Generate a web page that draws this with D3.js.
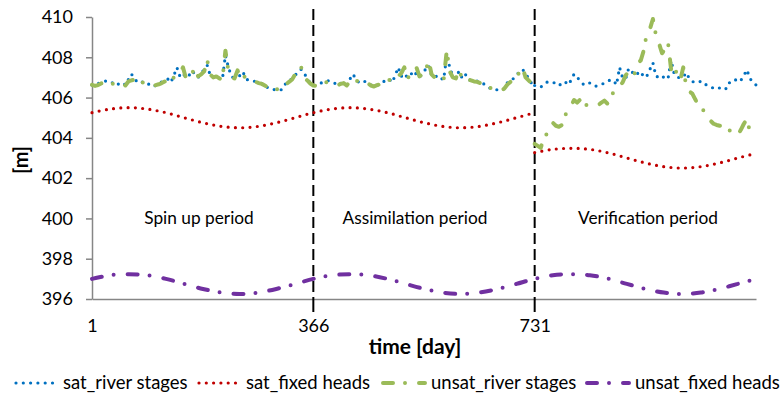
<!DOCTYPE html>
<html><head><meta charset="utf-8">
<script src="https://cdn.jsdelivr.net/npm/d3@7"></script>
<style>
body{margin:0;background:#fff}
svg{display:block}
text{font-family:Lato,"Open Sans",sans-serif;fill:#000}
</style>
</head><body>
<svg id="c" width="783" height="397"></svg>
<script>
// ---- data ----
const sampleStep = 5; // days between river-stage samples
const periodStarts = [1, 366, 731];
const periodEnd = 1096;
// river stages, one year (repeated for spin-up and assimilation periods), every 5 days
const satRiverYear = [406.63,406.6,406.7,406.74,406.8,406.84,406.76,406.72,406.6,406.7,406.75,406.62,406.9,407.17,406.95,406.75,406.72,406.8,406.74,406.63,406.54,406.6,406.7,406.78,406.85,406.92,406.75,407.1,407.5,407.05,407.2,407.0,407.1,407.33,407.15,407.0,407.2,407.4,407.6,407.1,407.0,407.1,406.95,406.9,408.1,407.5,407.05,406.95,407.3,407.0,407.2,406.9,406.85,406.8,406.82,406.75,406.7,406.6,406.49,406.42,406.4,406.38,406.35,406.45,406.74,406.8,406.95,407.1,407.3,407.4,407.2,406.95,406.7,406.6];
const unsatRiverYear = [406.63,406.58,406.62,406.7,406.75,406.78,406.72,406.68,406.6,406.68,406.72,406.6,406.8,406.85,406.9,406.72,406.7,406.76,406.7,406.6,406.55,406.62,406.66,406.72,406.8,406.88,406.78,407.0,407.05,407.2,407.5,406.95,407.1,407.2,407.5,407.05,407.15,407.3,407.85,407.15,407.0,407.05,406.95,406.9,408.33,407.3,407.0,406.95,407.35,407.0,407.1,406.9,406.85,406.8,406.78,406.72,406.68,406.6,406.5,406.45,406.4,406.42,406.35,406.45,406.65,406.78,406.9,407.15,407.2,407.5,407.0,406.85,406.7,406.6];
// verification period, every 5 days from day 731
const satRiverVerif = [406.6,406.55,406.51,406.68,406.76,406.8,406.76,406.7,406.59,406.72,406.8,406.63,406.85,407.17,407.0,406.85,406.67,406.77,406.74,406.63,406.56,406.6,406.67,406.7,406.8,406.88,406.85,406.63,407.5,406.98,406.92,407.45,407.3,407.1,407.2,407.3,407.0,407.07,407.4,407.73,407.05,407.02,407.1,406.92,406.95,407.85,407.2,407.02,406.97,407.02,407.24,406.95,406.8,406.74,406.76,406.82,406.7,406.58,406.52,406.47,406.42,406.48,406.5,406.42,406.74,406.72,406.85,406.95,406.85,407.1,407.38,406.95,406.75,406.63];
const unsatRiverVerif = [403.7,403.6,403.5,403.98,404.2,404.4,404.75,404.6,404.55,404.64,405.1,405.4,405.6,405.88,405.75,405.9,405.55,405.62,405.7,405.68,405.65,405.63,405.75,405.85,405.7,405.88,406.3,406.4,406.6,406.75,407.1,407.29,407.4,407.2,407.7,407.85,408.35,409.2,409.4,409.9,409.1,408.7,408.2,408.4,408.7,407.4,407.6,407.1,406.85,407.5,406.55,406.3,406.2,405.9,405.65,405.5,405.3,405.0,404.85,404.7,404.64,404.6,404.62,404.6,404.4,404.3,404.3,404.15,404.4,404.7,404.92,404.3,404.15,404.06];
// fixed heads, day offsets inside each period
const fixedOffsets = [0,30,61,91,122,152,183,213,243,274,304,335,365];
const satFixedYear = [405.25,405.43,405.5,405.43,405.25,405.0,404.75,404.57,404.5,404.57,404.75,405.0,405.25];
const satFixedVerif = [403.27,403.43,403.48,403.43,403.25,403.0,402.75,402.57,402.5,402.57,402.75,403.0,403.23];
const unsatFixedYear = [397.0,397.18,397.23,397.18,397.0,396.75,396.5,396.32,396.25,396.32,396.5,396.75,397.0];

const xTickValues = [1, 366, 731];
const yTickValues = [396, 398, 400, 402, 404, 406, 408, 410];
const periodLabels = ["Spin up period", "Assimilation period", "Verification period"];
const seriesNames = ["sat_river stages", "sat_fixed heads", "unsat_river stages", "unsat_fixed heads"];
const seriesColors = ["#0070C0", "#C00000", "#9BBB59", "#7030A0"];

// ---- chart ----
const svg = d3.select("#c");
const x = d3.scaleLinear().domain([1, periodEnd]).range([92, 756]);
const y = d3.scaleLinear().domain([396, 410]).range([299, 17]);

const styles = [
  {w: 3.2, dash: "0 7.3"},
  {w: 3.2, dash: "0 7.3"},
  {w: 4, dash: "10 12 0 14"},
  {w: 4, dash: "10 12 0 14"}
];

// build point arrays
const riverPts = (vals, start) => vals.map((v, i) => [start + i * sampleStep, v]);
const fixedPts = (vals, start) => vals.map((v, i) => [start + fixedOffsets[i], v]);

const satRiverA = riverPts(satRiverYear, periodStarts[0]).concat(riverPts(satRiverYear, periodStarts[1]).slice(1));
const satRiverB = riverPts(satRiverVerif, periodStarts[2]);
const unsatRiverA = riverPts(unsatRiverYear, periodStarts[0]).concat(riverPts(unsatRiverYear, periodStarts[1]).slice(1));
const unsatRiverB = riverPts(unsatRiverVerif, periodStarts[2]);
const satFixedA = fixedPts(satFixedYear, periodStarts[0]).concat(fixedPts(satFixedYear, periodStarts[1]).slice(1));
const satFixedB = fixedPts(satFixedVerif, periodStarts[2]);
const unsatFixedAll = fixedPts(unsatFixedYear, periodStarts[0])
  .concat(fixedPts(unsatFixedYear, periodStarts[1]).slice(1))
  .concat(fixedPts(unsatFixedYear, periodStarts[2]).slice(1));

const lineLin = d3.line().x(d => x(d[0])).y(d => y(d[1]));
const lineSmooth = d3.line().x(d => x(d[0])).y(d => y(d[1])).curve(d3.curveCatmullRom.alpha(0.5));

// axes
const yAxis = svg.append("g").attr("transform", "translate(92,0)")
  .call(d3.axisLeft(y).tickValues(yTickValues).tickSize(6).tickSizeOuter(0).tickPadding(13).tickFormat(d3.format("d")));
yAxis.select(".domain").attr("stroke", "#868686").attr("stroke-width", 1.5);
yAxis.selectAll(".tick line").attr("stroke", "#868686").attr("stroke-width", 1.5);
yAxis.selectAll(".tick text").style("font-size", "18px").style("font-family", "Lato");

const xAxis = svg.append("g").attr("transform", "translate(0,299)")
  .call(d3.axisBottom(x).tickValues(xTickValues).tickSize(0).tickSizeOuter(0).tickPadding(20).tickFormat(d3.format("d")));
xAxis.select(".domain").attr("stroke", "#868686").attr("stroke-width", 1.5);
xAxis.selectAll(".tick text").style("font-size", "18px").style("font-family", "Lato");

// period separators
[periodStarts[1], periodStarts[2]].forEach(d => {
  svg.append("line").attr("x1", x(d)).attr("x2", x(d)).attr("y1", 9).attr("y2", 299)
    .attr("stroke", "#000").attr("stroke-width", 2).attr("stroke-dasharray", "11 5");
  svg.append("line").attr("x1", x(d)).attr("x2", x(d)).attr("y1", 299).attr("y2", 312)
    .attr("stroke", "#000").attr("stroke-width", 2);
});

// series
function drawPath(pts, si, gen) {
  svg.append("path").attr("d", gen(pts)).attr("fill", "none")
    .attr("stroke", seriesColors[si]).attr("stroke-width", styles[si].w)
    .attr("stroke-dasharray", styles[si].dash).attr("stroke-linecap", "round").attr("stroke-linejoin", "round");
}
drawPath(satRiverA, 0, lineLin);
drawPath(satRiverB, 0, lineLin);
drawPath(satFixedA, 1, lineSmooth);
drawPath(satFixedB, 1, lineSmooth);
drawPath(unsatRiverA, 2, lineLin);
drawPath(unsatRiverB, 2, lineLin);
drawPath(unsatFixedAll, 3, lineSmooth);

// period labels
const labelCenters = [199, 415, 648];
periodLabels.forEach((t, i) => {
  svg.append("text").attr("x", labelCenters[i]).attr("y", 224).attr("text-anchor", "middle")
    .style("font-size", "17.3px").text(t);
});

// axis titles
svg.append("text").attr("x", 415).attr("y", 354).attr("text-anchor", "middle")
  .style("font-size", "21px").style("font-weight", "bold").text("time [day]");
svg.append("text").attr("transform", "translate(28,160) rotate(-90)").attr("text-anchor", "middle")
  .style("font-size", "20px").style("font-weight", "bold").text("[m]");

// legend
const legendX = [16, 199, 383, 587];
const legendY = 383;
seriesNames.forEach((n, i) => {
  svg.append("line").attr("x1", legendX[i]).attr("x2", legendX[i] + 42).attr("y1", legendY).attr("y2", legendY)
    .attr("stroke", seriesColors[i]).attr("stroke-width", styles[i].w)
    .attr("stroke-dasharray", styles[i].dash).attr("stroke-linecap", "round");
  svg.append("text").attr("x", legendX[i] + (i >= 2 ? 48 : 47)).attr("y", legendY + 6)
    .style("font-size", "18.5px").text(n);
});
</script>
</body></html>
